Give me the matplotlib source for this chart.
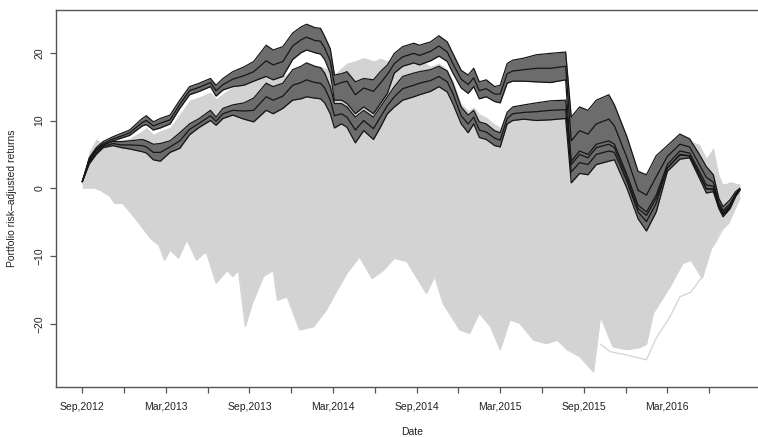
import numpy as np
import matplotlib
matplotlib.use("Agg")
import matplotlib.pyplot as plt

plt.rcParams['font.family'] = ['Liberation Sans', 'DejaVu Sans']

# months since Sep 2012 at which the portfolio paths are sampled
months = [0.0, 0.5, 1.0, 1.5, 2.2, 2.8, 3.4, 4.3, 4.6, 5.1,
          5.6, 6.3, 7.0, 7.7, 8.4, 9.2, 9.6, 10.1, 10.8, 11.6,
          12.3, 13.2, 13.7, 14.4, 15.1, 15.7, 16.1, 16.7, 17.1, 17.4,
          17.8, 18.1, 18.6, 19.0, 19.6, 20.2, 20.9, 21.4, 21.9, 22.4,
          23.0, 23.8, 24.2, 25.0, 25.6, 26.2, 26.6, 27.2, 27.7, 28.1,
          28.5, 29.0, 29.6, 30.0, 30.5, 30.9, 31.7, 32.6, 33.6, 34.7,
          35.1, 35.7, 36.3, 36.9, 37.8, 38.2, 39.1, 39.9, 40.5, 41.2,
          42.0, 42.9, 43.6, 44.3, 44.8, 45.3, 45.7, 46.0, 46.5, 46.9,
          47.2]

# selected portfolios, upper group: top, middle and bottom path
sel_upper_top = [1.0, 4.5, 6.0, 6.9, 7.6, 8.1, 8.6, 10.3, 10.7, 9.8,
                 10.3, 10.8, 13.0, 15.0, 15.5, 16.2, 15.2, 16.2, 17.2, 17.9,
                 18.7, 21.1, 20.4, 20.9, 22.9, 23.8, 24.2, 23.7, 23.6, 22.4,
                 20.6, 16.7, 16.9, 17.2, 15.7, 16.2, 16.0, 17.2, 18.2, 19.9,
                 20.9, 21.4, 21.1, 21.6, 22.5, 21.6, 19.9, 17.4, 16.7, 17.7,
                 15.7, 16.0, 15.0, 15.2, 18.4, 18.9, 19.2, 19.7, 19.9, 20.1,
                 10.5, 12.0, 11.5, 13.0, 13.8, 12.3, 7.6, 2.5, 2.0, 4.8,
                 6.3, 8.0, 7.3, 5.0, 3.2, 2.0, -1.5, -2.7, -1.7, -0.5,
                 0.0]
sel_upper_mid = [1.0, 4.3, 5.8, 6.6, 7.3, 7.7, 8.2, 9.7, 10.0, 9.2,
                 9.6, 10.1, 12.4, 14.4, 14.9, 15.6, 14.4, 15.3, 16.1, 16.6,
                 17.2, 18.8, 18.2, 18.7, 21.0, 21.9, 22.3, 21.8, 21.7, 20.7,
                 18.8, 15.2, 15.6, 15.8, 13.8, 14.8, 14.3, 15.5, 16.8, 18.4,
                 19.4, 19.9, 19.6, 20.2, 21.0, 20.1, 18.4, 16.1, 15.3, 16.3,
                 14.4, 14.7, 13.9, 13.9, 16.9, 17.3, 17.5, 17.7, 17.7, 18.0,
                 7.0, 8.5, 8.0, 9.5, 10.2, 9.2, 4.5, -0.3, -1.0, 1.7,
                 4.7, 6.5, 6.1, 3.5, 1.6, 0.9, -2.1, -3.3, -2.3, -0.8,
                 -0.1]
sel_upper_bot = [1.0, 4.1, 5.6, 6.4, 7.0, 7.4, 7.8, 9.2, 9.4, 8.6,
                 8.9, 9.5, 11.8, 13.8, 14.3, 15.0, 13.6, 14.5, 15.0, 15.2,
                 15.8, 16.5, 16.0, 16.5, 19.0, 20.0, 20.4, 20.0, 19.8, 19.0,
                 17.0, 13.0, 13.0, 12.5, 11.0, 12.0, 11.0, 12.5, 14.0, 17.0,
                 18.0, 18.5, 18.2, 18.8, 19.5, 18.7, 17.0, 14.8, 14.0, 15.0,
                 13.2, 13.5, 12.8, 12.6, 15.5, 15.8, 15.8, 15.7, 15.6, 16.0,
                 3.5, 5.0, 4.5, 6.0, 6.5, 6.0, 1.5, -3.0, -4.0, -1.5,
                 3.0, 5.0, 4.8, 2.0, 0.0, -0.2, -2.7, -3.8, -2.8, -1.1,
                 -0.2]

# selected portfolios, lower group: top, middle and bottom path
sel_lower_top = [1.0, 4.0, 5.5, 6.4, 6.9, 6.9, 7.0, 7.2, 7.0, 6.5,
                 6.6, 7.0, 8.2, 9.5, 10.3, 11.5, 10.5, 11.8, 12.3, 12.6,
                 13.3, 15.5, 15.0, 15.5, 17.5, 18.0, 18.5, 18.0, 17.8, 17.0,
                 15.0, 12.5, 12.5, 12.0, 10.5, 11.5, 10.5, 12.0, 13.5, 15.0,
                 16.5, 17.0, 17.2, 17.5, 18.0, 17.3, 15.5, 12.0, 10.8, 11.5,
                 9.8, 9.5, 8.5, 8.2, 11.2, 12.0, 12.3, 12.6, 12.9, 13.0,
                 4.0, 5.5, 5.0, 6.5, 7.0, 6.5, 2.0, -2.5, -3.5, -1.0,
                 3.5, 5.5, 5.2, 2.5, 0.5, 0.3, -2.5, -3.6, -2.6, -1.0,
                 -0.2]
sel_lower_mid = [1.0, 3.8, 5.2, 6.2, 6.6, 6.4, 6.4, 6.3, 6.1, 5.3,
                 5.3, 6.1, 7.0, 8.7, 9.6, 10.7, 9.9, 11.0, 11.5, 11.4,
                 11.5, 13.5, 13.0, 13.6, 15.2, 15.6, 16.0, 15.6, 15.5, 14.8,
                 13.0, 10.7, 11.0, 10.5, 8.6, 10.0, 8.8, 10.5, 12.2, 13.5,
                 14.7, 15.2, 15.5, 15.9, 16.5, 15.7, 14.0, 10.7, 9.5, 10.5,
                 8.6, 8.3, 7.4, 7.1, 10.3, 11.0, 11.2, 11.3, 11.5, 11.6,
                 2.4, 3.8, 3.5, 5.0, 5.5, 5.3, 1.0, -3.5, -4.9, -2.2,
                 3.0, 4.9, 4.8, 2.0, -0.1, -0.1, -2.7, -3.9, -2.8, -1.1,
                 -0.2]
sel_lower_bot = [1.0, 3.6, 5.0, 6.0, 6.3, 6.0, 5.8, 5.4, 5.2, 4.2,
                 4.0, 5.3, 5.9, 7.9, 9.0, 10.0, 9.3, 10.3, 10.8, 10.2,
                 9.8, 11.5, 11.0, 11.8, 13.0, 13.2, 13.5, 13.3, 13.2, 12.6,
                 11.0, 8.9, 9.5, 9.0, 6.7, 8.5, 7.2, 9.0, 11.0, 12.0,
                 13.0, 13.5, 13.8, 14.3, 15.0, 14.2, 12.5, 9.5, 8.2, 9.5,
                 7.5, 7.2, 6.3, 6.1, 9.5, 10.0, 10.2, 10.0, 10.1, 10.3,
                 0.8, 2.2, 2.0, 3.5, 4.0, 4.2, 0.0, -4.5, -6.3, -3.5,
                 2.5, 4.3, 4.5, 1.5, -0.7, -0.5, -3.0, -4.2, -3.0, -1.2,
                 -0.3]

# highest of all random portfolios
all_top = [1.0, 5.5, 7.3, 6.5, 6.8, 7.0, 7.4, 8.5, 9.0, 8.0,
           8.5, 9.0, 11.0, 13.0, 13.5, 14.2, 13.2, 14.0, 15.0, 15.5,
           16.0, 16.5, 16.0, 16.5, 17.5, 18.0, 18.3, 18.0, 18.0, 17.8,
           17.5, 16.8, 17.8, 18.5, 18.8, 19.3, 18.8, 19.2, 18.8, 18.5,
           19.0, 19.5, 19.0, 18.0, 18.5, 17.5, 16.0, 12.5, 11.5, 12.0,
           11.0, 10.5, 9.5, 9.0, 11.5, 12.0, 12.3, 12.5, 12.8, 13.0,
           8.0, 10.0, 9.5, 10.5, 11.0, 10.0, 6.0, 1.5, 1.0, 3.5,
           5.5, 6.5, 7.0, 6.5, 4.5, 6.0, 2.0, 0.5, 1.0, 0.8,
           0.3]

# lowest of all random portfolios (own sampling months)
low_months = [0.0, 1.3, 2.0, 2.3, 2.9, 3.9, 4.9, 5.5, 5.9, 6.3,
              6.9, 7.5, 8.2, 8.6, 8.9, 9.6, 10.4, 10.8, 11.2, 11.7,
              12.2, 13.0, 13.7, 14.0, 14.7, 15.6, 16.6, 17.5, 18.3, 19.0,
              19.9, 20.8, 21.6, 22.4, 23.3, 23.8, 24.7, 25.3, 25.9, 27.1,
              27.8, 28.5, 29.3, 30.0, 30.7, 31.4, 32.4, 33.3, 34.1, 34.8,
              35.7, 36.7, 37.2, 38.1, 39.1, 40.0, 40.5, 41.0, 42.2, 43.1,
              43.7, 44.5, 45.2, 45.8, 46.5, 47.2]
all_bottom = [0.7, -0.3, -1.2, -2.2, -2.2, -4.7, -7.4, -8.4, -10.6, -9.1,
              -10.3, -7.6, -10.6, -9.8, -9.4, -14.0, -12.1, -13.0, -12.1, -20.4,
              -17.0, -13.0, -12.1, -16.5, -16.0, -20.9, -20.4, -18.0, -15.0, -12.5,
              -10.1, -13.3, -12.1, -10.3, -10.8, -12.5, -15.5, -13.0, -17.0, -20.9,
              -21.4, -18.4, -20.4, -23.8, -19.4, -19.9, -22.4, -22.9, -22.4, -23.8,
              -24.8, -27.1, -18.9, -23.4, -23.8, -23.5, -23.0, -18.4, -14.5, -11.1,
              -10.6, -13.3, -8.6, -6.2, -4.7, -1.5]

# one portfolio that trails below the rest in late 2015 / early 2016
trail_months = [37.2, 37.9, 39.1, 40.5, 41.2, 42.2, 42.9, 43.7, 44.5, 45.1,
                45.5, 46.0, 46.5]
trail_vals = [-23.0, -24.1, -24.6, -25.3, -22.1, -18.9, -16.0, -15.3, -13.0, -9.1,
              -7.9, -6.0, -5.0]

tick_labels = ['Sep,2012', '', 'Mar,2013', '', 'Sep,2013', '', 'Mar,2014', '',
               'Sep,2014', '', 'Mar,2015', '', 'Sep,2015', '', 'Mar,2016', '']

grey = '#d3d3d3'
frame = '#555555'

fig = plt.figure(figsize=(7.58, 4.37), dpi=100)
ax = fig.add_axes([0.0739, 0.1144, 0.9368, 0.8627])

x = np.array(months)
ax.fill_between(low_months, all_bottom, 0.7, color=grey, lw=0, zorder=1)
ax.fill_between(x, all_top, 0, color=grey, lw=0, zorder=1)
ax.plot(low_months, all_bottom, color=grey, lw=0.9, zorder=1)
ax.plot(trail_months, trail_vals, color=grey, lw=0.9, zorder=1)

# the two bundles of selected portfolios
bundles = [(sel_upper_top, sel_upper_mid, sel_upper_bot),
           (sel_lower_top, sel_lower_mid, sel_lower_bot)]
for top, mid, bot in bundles:
    ax.fill_between(x, bot, top, color='#6c6c6c', lw=0, zorder=2)
    for path in (top, mid, bot):
        ax.plot(x, path, color='#161616', lw=0.9, zorder=3)

ax.set_xlim(-1.888, 49.09)
ax.set_ylim(-29.31, 26.30)

ax.set_xticks(np.arange(0, 46, 3))
ax.set_xticklabels(tick_labels)
ax.set_yticks([-20, -10, 0, 10, 20])
ax.set_yticklabels(['\u221220', '\u221210', '0', '10', '20'], rotation=90, va='center')

ax.spines['right'].set_visible(False)
for s in ['left', 'bottom', 'top']:
    ax.spines[s].set_color(frame)
    ax.spines[s].set_linewidth(1.0)
ax.tick_params(axis='both', direction='out', length=4.5, width=0.9,
               color=frame, labelsize=7.5, labelcolor='#222222')
ax.tick_params(axis='x', pad=6)
ax.tick_params(axis='y', pad=4)

ax.set_xlabel('Date', fontsize=7.5, color='#222222')
ax.set_ylabel('Portfolio risk\u2013adjusted returns', fontsize=7.5, color='#222222')
ax.xaxis.set_label_coords(0.501, -0.106)
ax.yaxis.set_label_coords(-0.055, 0.5)

fig.savefig('out.png', dpi=100)
